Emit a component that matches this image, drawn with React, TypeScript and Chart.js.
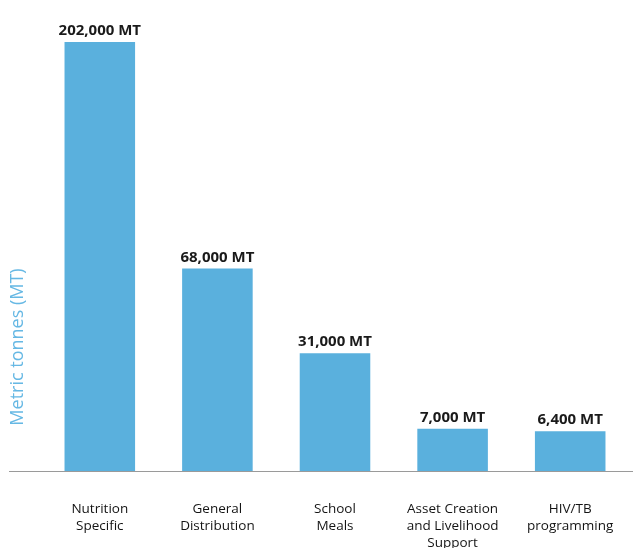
import React, { useEffect, useRef } from 'react';
import { Chart, LinearScale, registerables } from 'chart.js';

// Food distributed by programme type
const categories: string[][] = [
  ['Nutrition', 'Specific'],
  ['General', 'Distribution'],
  ['School', 'Meals'],
  ['Asset Creation', 'and Livelihood', 'Support'],
  ['HIV/TB', 'programming'],
];
const tonnes: number[] = [202000, 68000, 31000, 7000, 6400];
const valueLabels: string[] = ['202,000 MT', '68,000 MT', '31,000 MT', '7,000 MT', '6,400 MT'];
const axisTitle = 'Metric tonnes (MT)';

const BAR_BLUE = '#5ab0dd';
const TITLE_BLUE = '#66b8e4';
const FONT = '"Open Sans", "Noto Sans", sans-serif';

// Power-law value axis: compresses large values so small programmes stay visible.
const EXPONENT = 0.69;

class PowerScale extends LinearScale {
  static id = 'power';
  static defaults = LinearScale.defaults;

  private range() {
    const lo = Math.pow(Math.max(this.min, 0), EXPONENT);
    const hi = Math.pow(Math.max(this.max, 0), EXPONENT);
    return { lo, hi };
  }

  getPixelForValue(value: number) {
    if (value === null || value === undefined || isNaN(value)) return NaN;
    const { lo, hi } = this.range();
    const t = (Math.pow(Math.max(value, 0), EXPONENT) - lo) / (hi - lo || 1);
    return this.getPixelForDecimal(t);
  }

  getValueForPixel(pixel: number) {
    const { lo, hi } = this.range();
    const d = this.getDecimalForPixel(pixel);
    return Math.pow(lo + d * (hi - lo), 1 / EXPONENT);
  }
}

Chart.register(...registerables, PowerScale);

const valueLabelPlugin = {
  id: 'valueLabels',
  afterDatasetsDraw(chart: any) {
    const { ctx } = chart;
    const meta = chart.getDatasetMeta(0);
    ctx.save();
    ctx.font = `bold 15px ${FONT}`;
    ctx.fillStyle = '#1a1a1a';
    ctx.textAlign = 'center';
    ctx.textBaseline = 'alphabetic';
    meta.data.forEach((bar: any, i: number) => {
      ctx.fillText(valueLabels[i], bar.x, bar.y - 7);
    });
    ctx.restore();
  },
};

const baselinePlugin = {
  id: 'baseline',
  afterDatasetsDraw(chart: any) {
    const { ctx, chartArea, width } = chart;
    ctx.save();
    ctx.strokeStyle = '#9a9a9a';
    ctx.lineWidth = 1;
    ctx.beginPath();
    ctx.moveTo(9, chartArea.bottom + 0.5);
    ctx.lineTo(width, chartArea.bottom + 0.5);
    ctx.stroke();
    ctx.restore();
  },
};

const axisTitlePlugin = {
  id: 'axisTitle',
  afterDraw(chart: any) {
    const { ctx, chartArea } = chart;
    ctx.save();
    ctx.font = `18px ${FONT}`;
    ctx.fillStyle = TITLE_BLUE;
    ctx.textAlign = 'center';
    ctx.textBaseline = 'middle';
    ctx.translate(18, chartArea.bottom - 124);
    ctx.rotate(-Math.PI / 2);
    ctx.fillText(axisTitle, 0, 0);
    ctx.restore();
  },
};

export default function App() {
  const canvasRef = useRef<HTMLCanvasElement>(null);

  useEffect(() => {
    if (!canvasRef.current) return;
    const chart = new Chart(canvasRef.current, {
      type: 'bar',
      data: {
        labels: categories,
        datasets: [
          {
            data: tonnes,
            backgroundColor: BAR_BLUE,
            borderWidth: 0,
            barPercentage: 0.6,
            categoryPercentage: 1,
          },
        ],
      },
      options: {
        animation: false,
        responsive: false,
        maintainAspectRatio: false,
        layout: { padding: { left: 41, right: 4, top: 42, bottom: 0 } },
        plugins: {
          legend: { display: false },
          tooltip: { enabled: false },
          title: { display: false },
        },
        scales: {
          x: {
            grid: { display: false },
            border: { display: false },
            ticks: {
              padding: 22,
              maxRotation: 0,
              autoSkip: false,
              color: '#141414',
              font: { family: FONT, size: 13.5, lineHeight: '17px' as any },
            },
            afterFit(scale: any) {
              scale.height = 77;
              scale.paddingLeft = 0;
              scale.paddingRight = 0;
            },
          },
          y: {
            type: 'power' as any,
            display: false,
            min: 0,
            max: 202000,
          },
        },
      },
      plugins: [baselinePlugin, valueLabelPlugin, axisTitlePlugin],
    });
    return () => chart.destroy();
  }, []);

  return (
    <div style={{ position: 'fixed', left: 0, top: 0, width: 633, height: 548, background: '#ffffff' }}>
      <canvas ref={canvasRef} width={633} height={548} style={{ width: 633, height: 548, display: 'block' }} />
    </div>
  );
}
